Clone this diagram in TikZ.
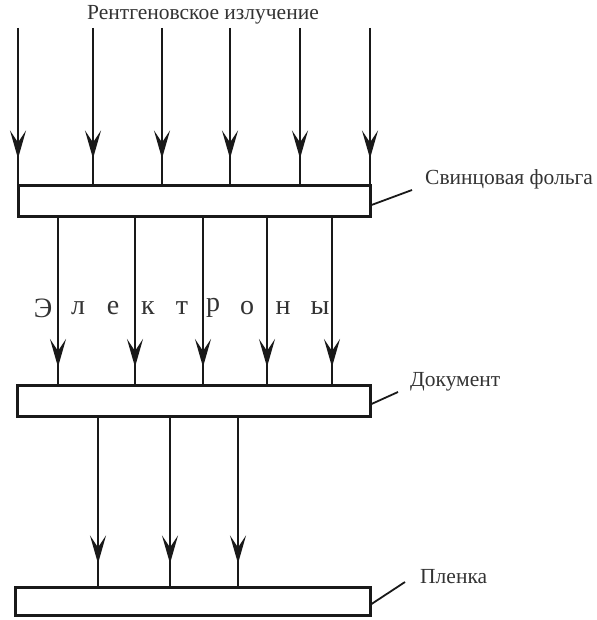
\documentclass[tikz,border=0pt]{standalone}
\usepackage{fontspec}
\setmainfont{Liberation Serif}
\usetikzlibrary{arrows.meta,decorations.markings}
\tikzset{
  plate/.style={draw=black!90, line width=3pt, rectangle, inner sep=0pt},
  ray/.style={draw=black!90, line width=2.3pt, postaction={decorate},
    decoration={markings, mark=at position #1 with {\arrow[black!90]{Stealth[length=28pt,width=16pt,inset=12pt]}}}},
  leader/.style={draw=black!90, line width=1.8pt},
  lbl/.style={font=\fontsize{21.5}{24}\selectfont, inner sep=0pt, text=black!80},
}
\begin{document}
\begin{tikzpicture}[x=1pt,y=-1pt]
\useasboundingbox (0,0) rectangle (596,620);
% plates
\node[plate, minimum width=352pt, minimum height=30pt] (foil) at (194,201) {};
\node[plate, minimum width=353pt, minimum height=31pt] (doc) at (193.5,401) {};
\node[plate, minimum width=355pt, minimum height=28pt] (film) at (192.5,601) {};
% labels
\node[lbl] (xray) at (203,15) {Рентгеновское излучение};
\node[lbl, anchor=west] (lfoil) at (425,179) {Свинцовая фольга};
\node[lbl, anchor=west] (ldoc) at (410,382) {Документ};
\node[lbl, anchor=west] (lfilm) at (420,577) {Пленка};
% leaders
\coordinate (cfoil) at (412,190);
\coordinate (cdoc) at (398,392);
\coordinate (cfilm) at (405,582);
\draw[leader] ([yshift=-4pt]foil.east) -- (cfoil);
\draw[leader] ([yshift=-3pt]doc.east) -- (cdoc);
\draw[leader] ([yshift=-3pt]film.east) -- (cfilm);
% x-ray arrows
\foreach \x [count=\i] in {18,93,162,230,300,370} {
  \coordinate (t\i) at (\x,28);
  \draw[ray=-26pt] (t\i) -- (t\i |- foil.north);
}
% electron arrows
\foreach \x in {58,135,203,267,332} {
  \draw[ray=-17pt] (foil.south -| \x,0) -- (doc.north -| \x,0);
}
% transmitted arrows
\foreach \x in {98,170,238} {
  \draw[ray=-22pt] (doc.south -| \x,0) -- (film.north -| \x,0);
}
% electrons text
\foreach \ch/\x in {Э/43,л/78,е/113,к/148,т/182,р/213,о/247,н/283,ы/320} {
  \node[font=\fontsize{28}{30}\selectfont, inner sep=0pt, text=black!80] at (\x,308) {\ch};
}
\end{tikzpicture}
\end{document}
